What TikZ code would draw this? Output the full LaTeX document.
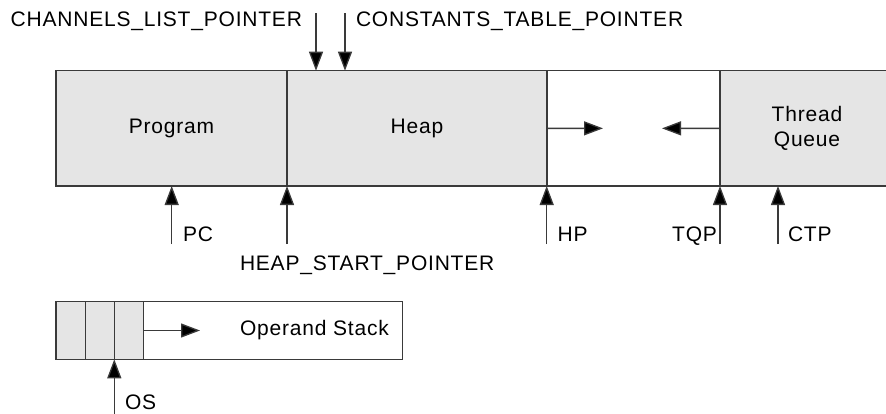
\documentclass[tikz,border=0pt]{standalone}
\usepackage{fontspec}
\setmainfont{Liberation Sans}[LetterSpace=3.8]
\usetikzlibrary{arrows.meta}
\definecolor{linec}{HTML}{3A3A3A}
\definecolor{cellgray}{HTML}{E5E5E5}
\begin{document}
\begin{tikzpicture}[x=1pt,y=-1pt,
  font=\fontsize{21}{25}\selectfont,
  every node/.style={outer sep=0pt},
  cell/.style={draw=linec, line width=1.3pt, fill=cellgray, inner sep=0pt, anchor=north west, minimum height=115.3pt},
  scell/.style={draw=linec, line width=1.3pt, fill=cellgray, inner sep=0pt, anchor=north west, minimum height=57.6pt, minimum width=29pt},
  ptr/.style={draw=linec, line width=1.3pt, -{Triangle[length=19pt,width=14pt,fill=black]}},
  lbl/.style={inner sep=0pt}
]
\useasboundingbox (0,0) rectangle (886,413);
\clip (0,0) rectangle (886,413);
% main strip
\node[cell, draw=none, minimum width=174pt, align=center] (tq) at (720,70.7) {Thread\\[0pt]Queue};
\node[cell, minimum width=231pt] (prog) at (56,70.7) {Program};
\node[cell, minimum width=260pt] (heap) at (287,70.7) {Heap};
\node[cell, minimum width=173pt, fill=white] (free) at (547,70.7) {};
\draw[draw=linec, line width=1.3pt] (tq.north west) -- (tq.north east);
\draw[draw=linec, line width=1.3pt] (tq.south west) -- (tq.south east);
% growth arrows
\coordinate (hgrow) at (603,128.35);
\coordinate (tgrow) at (662,128.35);
\draw[ptr] (heap.east) -- (hgrow);
\draw[ptr] (tq.west) -- (tgrow);
% top pointers
\coordinate (clp) at (316,13);
\coordinate (ctp) at (345,13);
\draw[ptr] (clp) -- (clp |- heap.north);
\draw[ptr] (ctp) -- (ctp |- heap.north);
\node[lbl, anchor=base east] (clpl) at (302,26.7) {CHANNELS\_LIST\_POINTER};
\node[lbl, anchor=base west] (ctpl) at (356,26.7) {CONSTANTS\_TABLE\_POINTER};
% bottom pointers
\coordinate (pc) at (171.7,244);
\coordinate (hsp) at (287,244);
\coordinate (hp) at (546.7,244);
\coordinate (tqp) at (720,244);
\coordinate (ctpp) at (778,244);
\draw[ptr] (pc) -- (pc |- prog.south);
\draw[ptr] (hsp) -- (hsp |- prog.south);
\draw[ptr] (hp) -- (hp |- prog.south);
\draw[ptr] (tqp) -- (tqp |- prog.south);
\draw[ptr] (ctpp) -- (ctpp |- prog.south);
\node[lbl, anchor=base west] (pcl) at (183,241) {PC};
\node[lbl, anchor=base west] (hspl) at (240,270) {HEAP\_START\_POINTER};
\node[lbl, anchor=base west] (hpl) at (557.7,241) {HP};
\node[lbl, anchor=base east] (tqpl) at (717,241) {TQP};
\node[lbl, anchor=base west] (ctpl2) at (788,241) {CTP};
% operand stack
\node[draw=linec, line width=1.3pt, fill=white, inner sep=0pt, anchor=north west, minimum width=346.7pt, minimum height=57.6pt] (stack) at (56,301.7) {};
\node[scell, minimum width=29.7pt] (s1) at (56,301.7) {};
\node[scell, minimum width=28.6pt] (s2) at (85.7,301.7) {};
\node[scell, minimum width=29pt] (s3) at (114.3,301.7) {};
\coordinate (sgrow) at (200,330.5);
\draw[ptr] (s3.east) -- (sgrow);
\node[lbl] (stackl) at (314.5,330.5) {Operand Stack};
\coordinate (os) at (114.3,420);
\draw[ptr] (os) -- (os |- stack.south);
\node[lbl, anchor=base west] (osl) at (125,409.5) {OS};
\end{tikzpicture}
\end{document}
